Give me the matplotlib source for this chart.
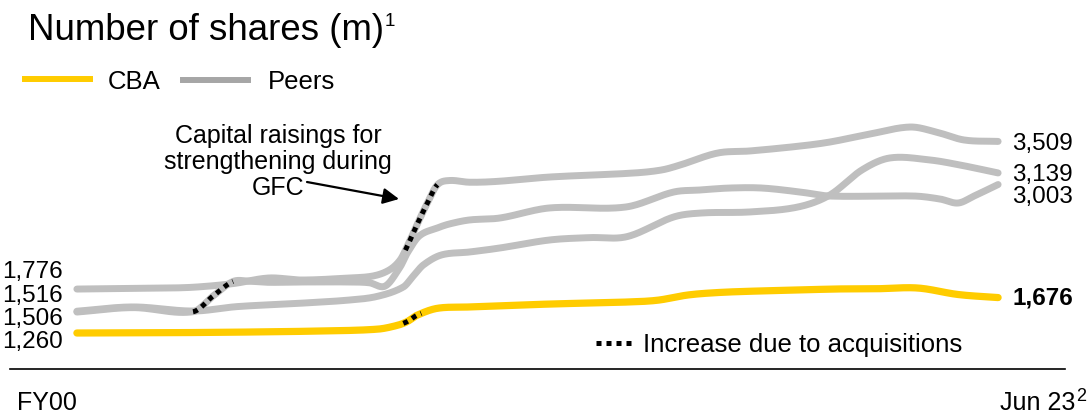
import matplotlib.pyplot as plt
import numpy as np
from matplotlib.lines import Line2D

plt.rcParams["font.family"] = ["Liberation Sans", "DejaVu Sans"]

W, H = 1092, 416

# shares on issue (m); x in financial years
cba_years = [2000, 2002, 2004, 2006, 2007.5, 2008.0, 2008.25, 2008.5, 2009.0, 2009.75,
             2011.8, 2013.75, 2014.5, 2015.25, 2016, 2017, 2018, 2019, 2020, 2021, 2022, 2023]
cba_shares = [1260, 1263, 1270, 1283, 1305, 1350, 1395, 1470, 1550, 1565,
              1600, 1624, 1645, 1706, 1735, 1753, 1765, 1777, 1780, 1788, 1712, 1676]

wbc_years = [2000, 2002.3, 2003.0, 2003.9, 2004.8, 2005.6, 2006.8, 2007.4, 2007.8, 2008.07,
             2008.25, 2008.5, 2008.75, 2009.0, 2009.3, 2009.8, 2010.5, 2011.8, 2013.9, 2014.6,
             2015.06, 2016.0, 2016.8, 2018.06, 2018.8, 2019.8, 2020.8, 2021.45, 2022.15, 2023]
wbc_shares = [1776, 1788, 1800, 1840, 1906, 1882, 1906, 1930, 2000, 2117,
              2281, 2540, 2786, 3000, 3050, 3030, 3040, 3091, 3138, 3174,
              3232, 3373, 3397, 3455, 3502, 3596, 3678, 3620, 3526, 3509]

anz_years = [2000, 2001.4, 2002.9, 2003.4, 2003.9, 2004.3, 2004.8, 2005.6, 2006.8, 2007.3,
             2007.7, 2008.07, 2008.25, 2008.55, 2009.0, 2009.3, 2009.8, 2010.56, 2011.8,
             2013.7, 2014.9, 2015.56, 2016.3, 2017.1, 2018.06, 2018.8, 2020.9, 2021.55,
             2022.0, 2022.4, 2023]
anz_shares = [1506, 1558, 1510, 1694, 1865, 1868, 1855, 1859, 1859, 1850,
              1812, 2035, 2200, 2400, 2493, 2540, 2587, 2610, 2728,
              2739, 2915, 2939, 2962, 2962, 2915, 2868, 2868, 2833,
              2786, 2868, 3003]

nab_years = [2000, 2001.4, 2002.9, 2004, 2005.6, 2006.8, 2007.5, 2008.15, 2008.4, 2008.65,
             2009.1, 2009.8, 2010.56, 2011.8, 2012.8, 2013.74, 2014.9, 2015.6, 2016.8, 2018.0,
             2018.8, 2019.6, 2020.3, 2021.3, 2022.05, 2023]
nab_shares = [1516, 1566, 1518, 1570, 1610, 1647, 1690, 1800, 1930, 2059,
              2176, 2211, 2258, 2352, 2380, 2392, 2622, 2669, 2681, 2739,
              2880, 3174, 3315, 3291, 3232, 3139]

# periods marked as acquisitions (dotted)
cba_acq = (2008.15, 2008.6)
anz_acq = (2002.9, 2003.9)
wbc_acq = (2008.2, 2009.0)

left_labels = ["1,776", "1,516", "1,506", "1,260"]
right_labels = ["3,509", "3,139", "3,003"]
cba_end_label = "1,676"

YELLOW = "#FFCC00"
GREY = "#BFBFBF"


def smooth(xs, ys, n=30):
    """Cubic Hermite curve through the points, like a smoothed Excel line."""
    x = np.asarray(xs, float)
    y = np.asarray(ys, float)
    m = np.empty_like(y)
    m[1:-1] = (y[2:] - y[:-2]) / (x[2:] - x[:-2])
    m[0] = (y[1] - y[0]) / (x[1] - x[0])
    m[-1] = (y[-1] - y[-2]) / (x[-1] - x[-2])
    t = np.linspace(0, 1, n, endpoint=False)
    h00 = 2 * t**3 - 3 * t**2 + 1
    h10 = t**3 - 2 * t**2 + t
    h01 = -2 * t**3 + 3 * t**2
    h11 = t**3 - t**2
    xo, yo = [], []
    for i in range(len(x) - 1):
        dx = x[i + 1] - x[i]
        xo.append(x[i] + t * dx)
        yo.append(h00 * y[i] + h10 * dx * m[i] + h01 * y[i + 1] + h11 * dx * m[i + 1])
    xo.append([x[-1]])
    yo.append([y[-1]])
    return np.concatenate(xo), np.concatenate(yo)


def fp(x, y):
    # pixel position (from top-left) -> figure fraction
    return x / W, 1 - y / H


fig = plt.figure(figsize=(W / 100, H / 100), dpi=100)
fig.patch.set_facecolor("white")

left, right = fp(10, 0)[0], fp(1065, 0)[0]
bottom, top = fp(0, 369.3)[1], fp(0, 99.6)[1]
ax = fig.add_axes([left, bottom, right - left, top - bottom])
ax.set_xlim(1998.33, 2024.67)
ax.set_ylim(834, 4000)
for s in ["top", "left", "right"]:
    ax.spines[s].set_visible(False)
ax.spines["bottom"].set_linewidth(1.2)
ax.spines["bottom"].set_color("black")
ax.set_xticks([])
ax.set_yticks([])
ax.patch.set_alpha(0)

curves = {}
for name, xs, ys in [("wbc", wbc_years, wbc_shares), ("anz", anz_years, anz_shares),
                     ("nab", nab_years, nab_shares)]:
    sx, sy = smooth(xs, ys)
    curves[name] = (sx, sy)
    ax.plot(sx, sy, color=GREY, lw=5, solid_capstyle="round", zorder=2)

cx, cy = smooth(cba_years, cba_shares)
curves["cba"] = (cx, cy)
ax.plot(cx, cy, color=YELLOW, lw=5.2, solid_capstyle="round", zorder=3)

for name, (a, b) in [("cba", cba_acq), ("anz", anz_acq), ("wbc", wbc_acq)]:
    sx, sy = curves[name]
    keep = (sx >= a) & (sx <= b)
    ax.plot(sx[keep], sy[keep], color="black", lw=3.6, linestyle=(0, (1, 1)),
            dash_capstyle="butt", zorder=5)

# title with superscript placed right after it
renderer = fig.canvas.get_renderer()
title = fig.text(*fp(28, 40), "Number of shares (m)", fontsize=26.4, va="baseline", ha="left")
tb = title.get_window_extent(renderer)
fig.text((tb.x1 + 1) / W, fp(0, 26)[1], "1", fontsize=13.5, va="baseline", ha="left")

# legend
fig.add_artist(Line2D([25 / W, 90 / W], [fp(0, 79)[1]] * 2, color=YELLOW, lw=4.3))
fig.text(*fp(108, 89), "CBA", fontsize=18.5, va="baseline", ha="left")
fig.add_artist(Line2D([183 / W, 248 / W], [fp(0, 80)[1]] * 2, color="#A6A6A6", lw=4.3))
fig.text(*fp(268, 89), "Peers", fontsize=18.5, va="baseline", ha="left")

# start / end values
for lab, yb in zip(left_labels, [278, 302, 325, 348]):
    fig.text(*fp(63, yb), lab, fontsize=17.5, va="baseline", ha="right")
for lab, yb in zip(right_labels, [150, 181, 203]):
    fig.text(*fp(1012, yb), lab, fontsize=17.5, va="baseline", ha="left")
fig.text(*fp(1012, 305), cba_end_label, fontsize=17.5, fontweight="bold",
         va="baseline", ha="left")

# GFC annotation
fig.text(*fp(278, 162), "Capital raisings for\nstrengthening during\nGFC", fontsize=18,
         ha="center", va="center", linespacing=1.08)
ax.annotate("", xy=fp(399, 199), xytext=fp(307, 182), xycoords="figure fraction",
            textcoords="figure fraction",
            arrowprops=dict(arrowstyle="-|>", color="black", lw=1.6, mutation_scale=24,
                            shrinkA=0, shrinkB=0))

# acquisitions key
fig.add_artist(Line2D([596 / W, 634 / W], [fp(0, 343)[1]] * 2, color="black", lw=3.6,
                      linestyle=(0, (1, 1)), dash_capstyle="butt"))
fig.text(*fp(643, 352), "Increase due to acquisitions", fontsize=18.5,
         va="baseline", ha="left")

# x end labels
fig.text(*fp(17, 410), "FY00", fontsize=18, va="baseline", ha="left")
jun = fig.text(*fp(1075, 410), "Jun 23", fontsize=18, va="baseline", ha="right")
jb = jun.get_window_extent(renderer)
fig.text((jb.x1 + 1) / W, fp(0, 401)[1], "2", fontsize=13, va="baseline", ha="left")

fig.savefig("out.png", dpi=100)
